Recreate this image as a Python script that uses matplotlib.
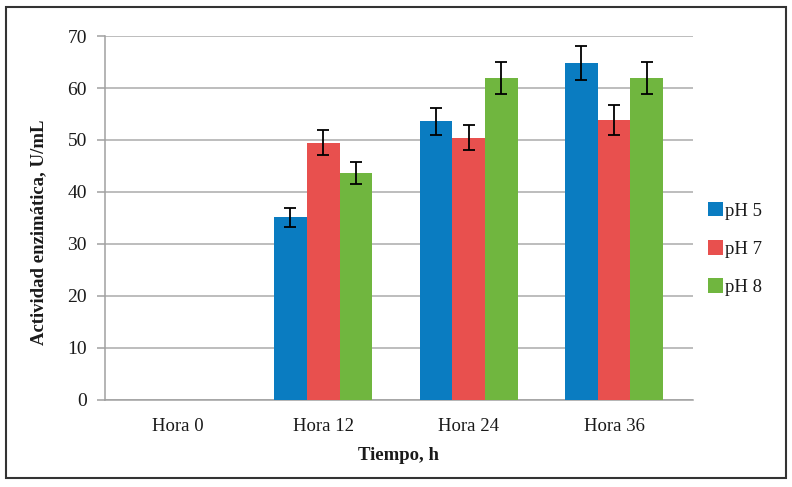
import numpy as np
import matplotlib
matplotlib.use("Agg")
import matplotlib.pyplot as plt
from matplotlib.patches import Rectangle

categorias = ["Hora 0", "Hora 12", "Hora 24", "Hora 36"]
series = ["pH 5", "pH 7", "pH 8"]
ph5 = [0, 35.1, 53.6, 64.8]
ph7 = [0, 49.5, 50.4, 53.9]
ph8 = [0, 43.7, 61.9, 61.9]
err5 = [0, 1.9, 2.6, 3.2]
err7 = [0, 2.4, 2.4, 2.9]
err8 = [0, 2.1, 3.1, 3.1]

colores = ["#0A7CC1", "#E8504E", "#70B63F"]

plt.rcParams['font.family'] = ['Liberation Serif', 'DejaVu Serif']
txt = '#1A1A1A'

fig = plt.figure(figsize=(7.92, 4.87), dpi=100)
ax = fig.add_axes([105 / 792, 0.179, 588 / 792, 0.747])

x = np.arange(len(categorias))
w = 0.225
valores = [ph5, ph7, ph8]
errores = [err5, err7, err8]
for i, (v, e) in enumerate(zip(valores, errores)):
    pos = x + (i - 1) * w
    ax.bar(pos, v, width=w, color=colores[i], label=series[i], zorder=3)
    mask = np.array(v) > 0
    ax.errorbar(pos[mask], np.array(v)[mask], yerr=np.array(e)[mask], fmt='none',
                ecolor='black', elinewidth=1.3, capsize=4.5, capthick=1.3, zorder=4)

ax.set_xlim(-0.5, 3.543)
ax.set_ylim(0, 70)
ax.set_yticks(range(0, 71, 10))
ax.set_xticks(x)
ax.set_xticklabels(categorias)
ax.yaxis.grid(True, color='#ABABAB', linewidth=1.1, zorder=0)
ax.set_axisbelow(True)
for s in ['top', 'right']:
    ax.spines[s].set_visible(False)
for s in ['left', 'bottom']:
    ax.spines[s].set_color('#A0A0A0')
    ax.spines[s].set_linewidth(1.1)
ax.tick_params(axis='y', length=6, color='#A0A0A0', width=1.1, labelsize=14, pad=7, labelcolor=txt)
ax.tick_params(axis='x', length=0, labelsize=13.5, pad=13, labelcolor=txt)

ax.set_xlabel("Tiempo, h", fontsize=13.5, fontweight='bold', labelpad=9, color=txt)
ax.set_ylabel("Actividad enzimática, U/mL", fontsize=13.5, fontweight='bold', color=txt)
ax.yaxis.set_label_coords(-0.0986, 0.461)

leg = ax.legend(loc='center left', bbox_to_anchor=(1.012, 0.4146), frameon=False,
                fontsize=13.5, handlelength=0.8, handleheight=0.8, handletextpad=0.15,
                labelspacing=1.1, borderaxespad=0)
for t in leg.get_texts():
    t.set_color(txt)

fig.patches.append(Rectangle((0.008, 0.018), 0.984, 0.968, transform=fig.transFigure,
                             fill=False, edgecolor='#333333', linewidth=1.5))

fig.savefig("out.png", dpi=100)
